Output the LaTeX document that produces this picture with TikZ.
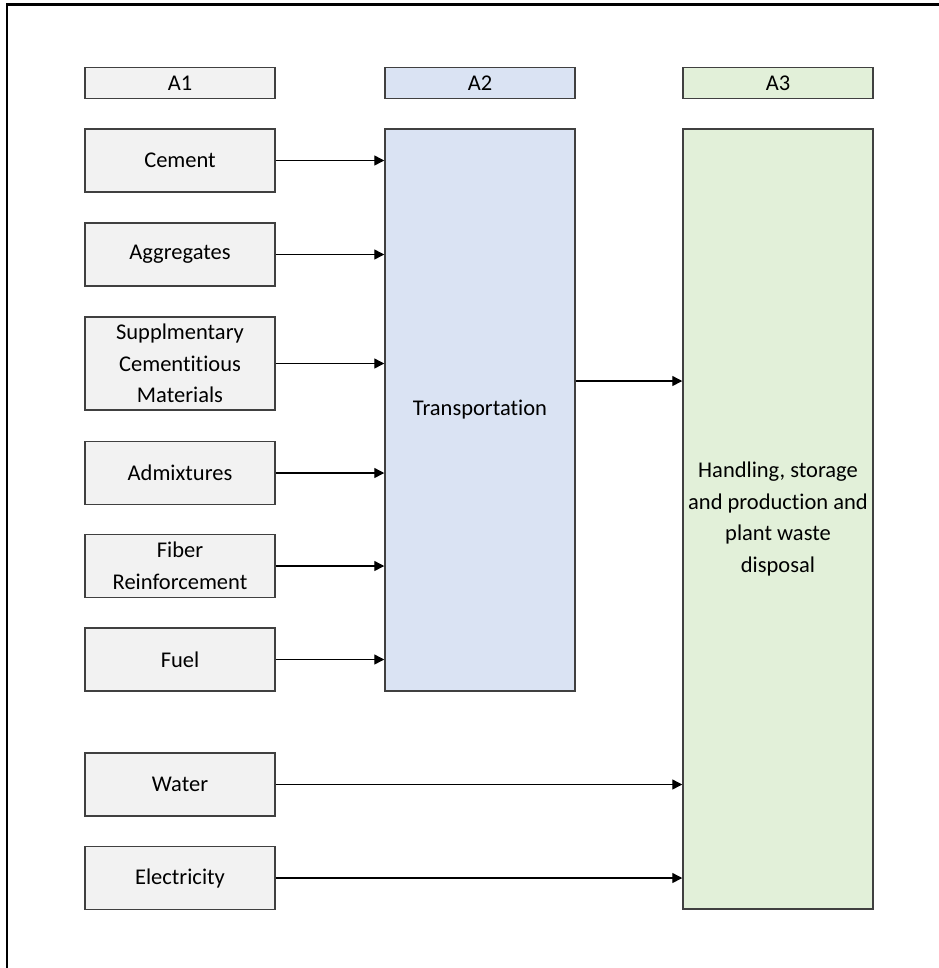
\documentclass[tikz,border=0pt]{standalone}
\usepackage{fontspec}
\setmainfont{Carlito}[Ligatures=NoCommon]
\usepackage{tikz}
\usetikzlibrary{arrows.meta}

\definecolor{boxgray}{RGB}{242,242,242}
\definecolor{boxblue}{RGB}{218,227,243}
\definecolor{boxgreen}{RGB}{226,240,217}
\definecolor{edgegray}{RGB}{64,64,64}

\begin{document}
\begin{tikzpicture}[
		x=0.02cm, y=-0.02cm,
		font=\fontsize{12.8}{18}\selectfont,
		inbox/.style={draw=edgegray, fill=boxgray, align=center, minimum width=3.8cm, minimum height=1.26cm, line width=0.85pt, inner sep=1pt},
		headbox/.style={draw=edgegray, align=center, minimum width=3.8cm, minimum height=0.62cm, line width=0.85pt, inner sep=1pt},
		bigbox/.style={draw=edgegray, align=center, minimum width=3.8cm, line width=0.85pt, inner sep=1pt},
		flow/.style={-{Triangle[length=2mm, width=2mm]}, line width=0.8pt}
	]

	\useasboundingbox (0,0) rectangle (939,968);
	\draw[line width=1.7pt] (7,990) -- (7,4) -- (960,4);

	% column headers
	\node[headbox, fill=boxgray] (hA1) at (180,83) {A1};
	\node[headbox, fill=boxblue] (hA2) at (480,83) {A2};
	\node[headbox, fill=boxgreen] (hA3) at (778,83) {A3};

	% A1 inputs
	\node[inbox] (cement) at (180,160.5) {Cement};
	\node[inbox] (aggr) at (180,254.5) {Aggregates};
	\node[inbox, minimum height=1.86cm] (scm) at (180,363.5) {Supplmentary\\Cementitious\\Materials};
	\node[inbox] (admix) at (180,473) {Admixtures};
	\node[inbox] (fiber) at (180,566) {Fiber\\Reinforcement};
	\node[inbox] (fuel) at (180,659.5) {Fuel};
	\node[inbox] (water) at (180,784.5) {Water};
	\node[inbox] (elec) at (180,878) {Electricity};

	% A2 and A3
	\node[bigbox, fill=boxblue, minimum height=11.24cm] (trans) at (480,410) {Transportation};
	\node[bigbox, fill=boxgreen, minimum height=15.6cm] (plant) at (778,519) {Handling, storage\\and production and\\plant waste\\disposal};

	% arrows
	\draw[flow] (cement.east) -- (cement.east -| trans.west);
	\draw[flow] (aggr.east) -- (aggr.east -| trans.west);
	\draw[flow] (scm.east) -- (scm.east -| trans.west);
	\draw[flow] (admix.east) -- (admix.east -| trans.west);
	\draw[flow] (fiber.east) -- (fiber.east -| trans.west);
	\draw[flow] (fuel.east) -- (fuel.east -| trans.west);

	\draw[flow] ([yshift=0.58cm]trans.east) -- ([yshift=0.58cm]trans.east -| plant.west);
	\draw[flow] (water.east) -- (water.east -| plant.west);
	\draw[flow] (elec.east) -- (elec.east -| plant.west);

\end{tikzpicture}
\end{document}
